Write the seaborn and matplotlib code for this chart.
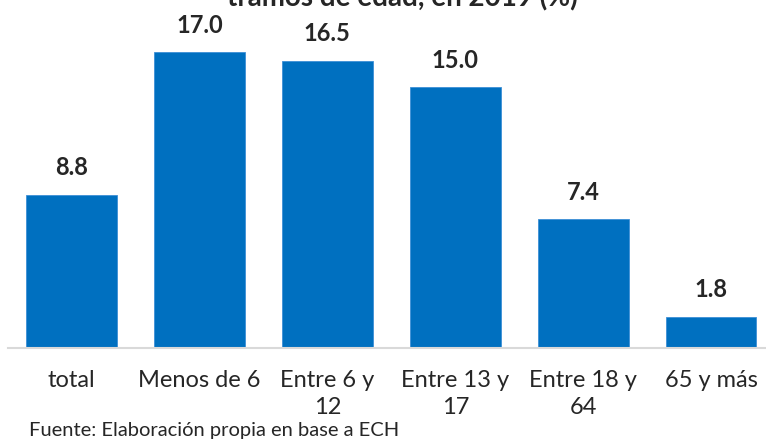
import pandas as pd
import matplotlib.pyplot as plt
import seaborn as sns

# Data
categorias = ['total', 'Menos de 6', 'Entre 6 y\n12', 'Entre 13 y\n17', 'Entre 18 y\n64', '65 y más']
valores = [8.8, 17.0, 16.5, 15.0, 7.4, 1.8]

titulo = 'tramos de edad, en 2019 (%)'
fuente = 'Fuente: Elaboración propia en base a ECH'

sns.set_style('white')
plt.rcParams['font.family'] = ['Lato', 'DejaVu Sans']

df = pd.DataFrame({'categoria': categorias, 'valor': valores})

fig = plt.figure(figsize=(7.66, 4.4), dpi=100)
ax = fig.add_axes([0.0098, 0.209, 1.002, 0.791])

sns.barplot(data=df, x='categoria', y='valor', color='#0070C0', saturation=1,
            width=0.71, edgecolor='#3d8fd6', linewidth=0.6, ax=ax)

ax.set_ylim(0, 20)
ax.set_xlabel('')
ax.set_ylabel('')
ax.set_yticks([])
for s in ['top', 'left', 'right']:
    ax.spines[s].set_visible(False)
ax.spines['bottom'].set_color('#d9d9d9')
ax.spines['bottom'].set_linewidth(1.5)
ax.tick_params(axis='x', length=0, pad=16, labelsize=17)
for lbl in ax.get_xticklabels():
    lbl.set_linespacing(1.35)

# Value labels above bars
for i, v in enumerate(valores):
    ax.annotate(f'{v:.1f}', (i, v), xytext=(0, 14), textcoords='offset points',
                ha='center', va='baseline', fontsize=17, fontweight='bold')

# title is partly cut off at the top edge, as in the source image
fig.text(0.525, 0.985, titulo, ha='center', va='baseline', fontsize=20, fontweight='bold')
fig.text(0.038, 0.022, fuente, ha='left', va='center', fontsize=14.5)

fig.savefig('out.png', dpi=100)
